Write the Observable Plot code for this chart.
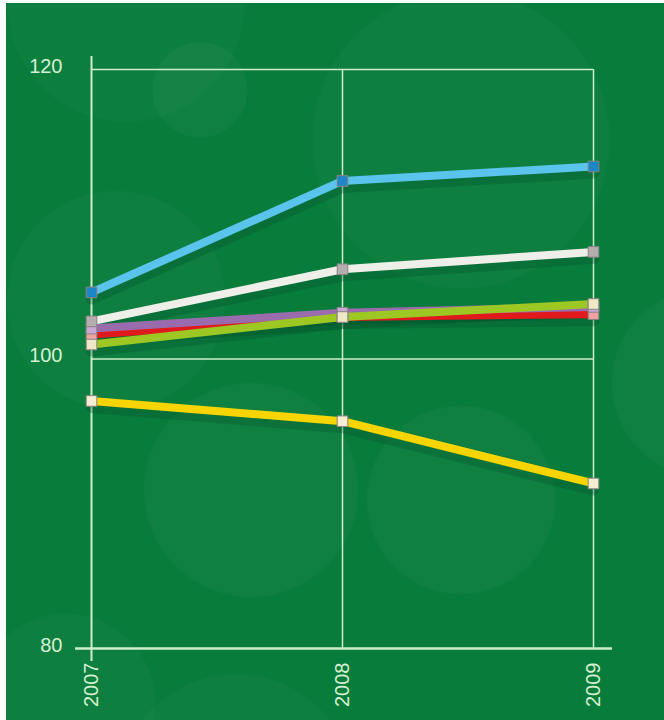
<!DOCTYPE html>
<html>
<head>
<meta charset="utf-8">
<script src="https://cdn.jsdelivr.net/npm/d3@7"></script>
<script src="https://cdn.jsdelivr.net/npm/@observablehq/plot@0.6"></script>
<style>
  html, body { margin: 0; padding: 0; background: #fff; }
  #wrap { position: relative; width: 664px; height: 720px; overflow: hidden; }
  #bg {
    position: absolute; left: 6px; top: 3px; right: 0; bottom: 0;
    background-color: #087c3b;
    background-image:
      radial-gradient(circle 48px at 194px 87px, rgba(255,255,255,0.03) 98%, transparent 100%),
      radial-gradient(circle 150px at 455px 137px, rgba(255,255,255,0.025) 98%, transparent 100%),
      radial-gradient(circle 110px at 110px 297px, rgba(255,255,255,0.025) 98%, transparent 100%),
      radial-gradient(circle 108px at 245px 487px, rgba(255,255,255,0.03) 98%, transparent 100%),
      radial-gradient(circle 95px at 455px 497px, rgba(255,255,255,0.03) 98%, transparent 100%),
      radial-gradient(circle 95px at 700px 380px, rgba(255,255,255,0.03) 98%, transparent 100%),
      radial-gradient(circle 90px at 60px 700px, rgba(255,255,255,0.025) 98%, transparent 100%),
      radial-gradient(circle 120px at 230px 790px, rgba(255,255,255,0.025) 98%, transparent 100%),
      radial-gradient(circle 120px at 120px 0px, rgba(255,255,255,0.02) 98%, transparent 100%);
  }
  #chart { position: absolute; left: 0; top: 0; }
</style>
</head>
<body>
<div id="wrap"><div id="bg"></div><div id="chart"></div></div>
<script>
const years = [2007, 2008, 2009];
const seriesNames = ["Red", "Purple", "Green", "White", "Blue", "Yellow"];
const seriesValues = {
  Red:    [101.7, 102.9, 103.1],
  Purple: [102.1, 103.2, 103.6],
  Green:  [101.0, 102.9, 103.8],
  White:  [102.6, 106.2, 107.4],
  Blue:   [104.6, 112.3, 113.3],
  Yellow: [97.1, 95.7, 91.4]
};
const lineColors = {Red: "#e01a1c", Purple: "#9a6cae", Green: "#9dc824", White: "#efefea", Blue: "#5bc4ec", Yellow: "#f8d500"};
const markerColors = {Red: "#f0a3a0", Purple: "#c9a9d6", Green: "#efe8c4", White: "#b6aeae", Blue: "#1c86c6", Yellow: "#f6eed2"};
const yTicks = [80, 100, 120];

const data = seriesNames.flatMap(s => years.map((y, i) => ({series: s, year: y, value: seriesValues[s][i]})));

const gridColor = "#cdeec9";
const textColor = "#d6f0d2";

const chart = Plot.plot({
  width: 664,
  height: 720,
  marginLeft: 91,
  marginRight: 71,
  marginTop: 69,
  marginBottom: 72,
  style: {background: "transparent", fontFamily: "Liberation Sans, Arial, sans-serif"},
  x: {domain: [2007, 2009], ticks: years, tickFormat: d => String(d)},
  y: {domain: [80, 120], ticks: yTicks},
  marks: [
    Plot.ruleY([100, 120], {stroke: gridColor, strokeWidth: 1.5}),
    Plot.ruleX([2008, 2009], {stroke: gridColor, strokeWidth: 1.5}),
    Plot.ruleX([2007], {stroke: gridColor, strokeWidth: 2, insetTop: -13, insetBottom: -13}),
    Plot.ruleY([80], {stroke: gridColor, strokeWidth: 2.5, insetLeft: -16, insetRight: -19}),
    Plot.axisY({ticks: yTicks, tickSize: 0, tickPadding: 29, dy: -3, fontSize: 20, fill: textColor, label: null}),
    Plot.axisX({ticks: years, tickSize: 0, tickRotate: -90, tickPadding: 14, fontSize: 20, fill: textColor, label: null, tickFormat: d => String(d)}),
    // shadows
    Plot.line(data, {x: "year", y: "value", z: "series", stroke: "#03502a", strokeOpacity: 0.3, strokeWidth: 12, dy: 6}),
    Plot.line(data, {x: "year", y: "value", z: "series", stroke: d => lineColors[d.series], strokeWidth: 8, strokeLinejoin: "miter"}),
    Plot.dot(data, {x: "year", y: "value", symbol: "square", r: 6, fill: d => markerColors[d.series], stroke: "#8a8282", strokeWidth: 1})
  ]
});
document.getElementById("chart").appendChild(chart);
</script>
</body>
</html>
